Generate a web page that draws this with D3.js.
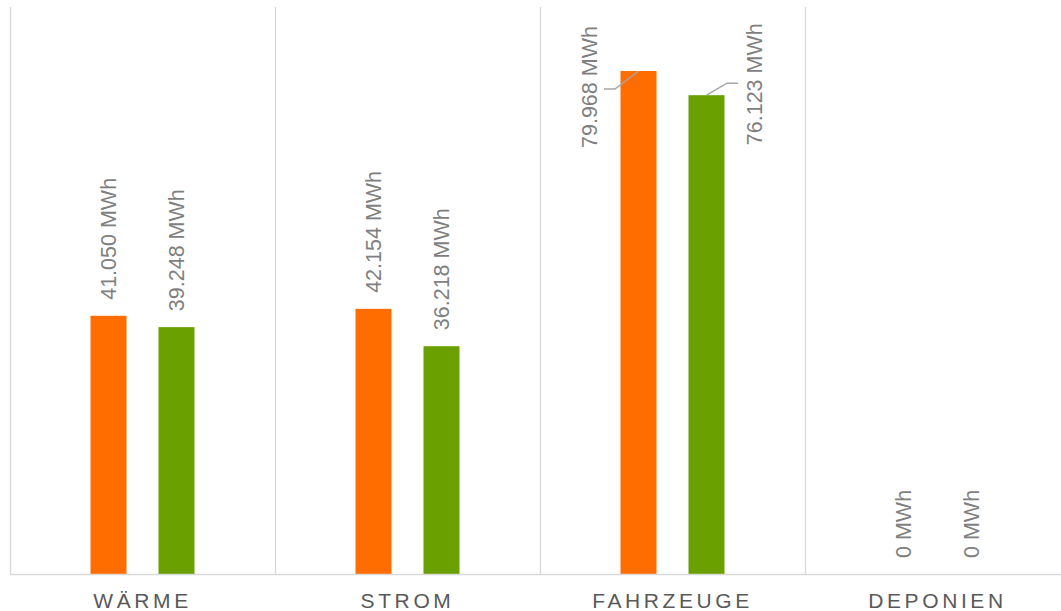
<!DOCTYPE html>
<html>
<head>
<meta charset="utf-8">
<script src="https://cdn.jsdelivr.net/npm/d3@7"></script>
<style>
    body { margin: 0; background: #fff; }
    svg { display: block; font-family: "Liberation Sans", Arial, sans-serif; }
</style>
</head>
<body>
<svg id="chart" width="1061" height="611"></svg>
<script>
// Data
const categories = ["WÄRME", "STROM", "FAHRZEUGE", "DEPONIEN"];
const seriesA = [41.050, 42.154, 79.968, 0];
const seriesB = [39.248, 36.218, 76.123, 0];
const valueLabelsA = ["41.050 MWh", "42.154 MWh", "79.968 MWh", "0 MWh"];
const valueLabelsB = ["39.248 MWh", "36.218 MWh", "76.123 MWh", "0 MWh"];

const COLORS = { a: "#ff6d00", b: "#6aa100", grid: "#d9d9d9", label: "#7f7f7f", cat: "#595959", leader: "#a6a6a6" };

// labels moved off the bar, with a leader line (offsets in px)
const labelAdjust = {
    "a-2": { dx: -49.5, dy: 77, elbow: [-23.5, 18], end: [-34.5, 18] },
    "b-2": { dx: 47.5, dy: 50, elbow: [20.5, -12], end: [31.5, -12] }
};

const svg = d3.select("#chart");
const margin = { top: 7, left: 10, bottom: 37 };
const bandW = 265;
const height = +svg.attr("height");
const baseY = height - margin.bottom;

const x = d3.scaleBand()
    .domain(categories)
    .range([margin.left, margin.left + bandW * categories.length]);

const y = d3.scaleLinear()
    .domain([0, 79.968])
    .range([baseY, 71]);

// vertical separators
svg.append("g")
    .selectAll("line")
    .data(d3.range(categories.length + 1))
    .enter()
    .append("line")
    .attr("x1", i => margin.left + i * bandW + 0.5)
    .attr("x2", i => margin.left + i * bandW + 0.5)
    .attr("y1", margin.top)
    .attr("y2", baseY)
    .attr("stroke", COLORS.grid)
    .attr("stroke-width", 1.3);

const barW = 36;
const offset = 34;

const rows = [];
categories.forEach((c, i) => {
    rows.push({ key: "a-" + i, cat: c, v: seriesA[i], label: valueLabelsA[i], color: COLORS.a, cx: x(c) + bandW / 2 - offset });
    rows.push({ key: "b-" + i, cat: c, v: seriesB[i], label: valueLabelsB[i], color: COLORS.b, cx: x(c) + bandW / 2 + offset });
});

// bars
svg.append("g")
    .selectAll("rect")
    .data(rows.filter(d => d.v > 0))
    .enter()
    .append("rect")
    .attr("x", d => d.cx - barW / 2)
    .attr("y", d => y(d.v))
    .attr("width", barW)
    .attr("height", d => baseY - y(d.v))
    .attr("fill", d => d.color);

// baseline
svg.append("line")
    .attr("x1", margin.left)
    .attr("x2", margin.left + bandW * categories.length)
    .attr("y1", baseY + 0.5)
    .attr("y2", baseY + 0.5)
    .attr("stroke", COLORS.grid)
    .attr("stroke-width", 1.5);

// leader lines
rows.forEach(d => {
    const adj = labelAdjust[d.key];
    if (!adj) return;
    const top = y(d.v);
    svg.append("polyline")
        .attr("points", [
            [d.cx, top],
            [d.cx + adj.elbow[0], top + adj.elbow[1]],
            [d.cx + adj.end[0], top + adj.end[1]]
        ].map(p => p.join(",")).join(" "))
        .attr("fill", "none")
        .attr("stroke", COLORS.leader)
        .attr("stroke-width", 1.5);
});

// value labels (rotated)
svg.append("g")
    .selectAll("text")
    .data(rows)
    .enter()
    .append("text")
    .attr("transform", d => {
        const adj = labelAdjust[d.key];
        const lx = d.cx + (adj ? adj.dx : 0);
        const ly = y(d.v) + (adj ? adj.dy : -16);
        return `translate(${lx},${ly}) rotate(-90)`;
    })
    .attr("dy", "0.36em")
    .attr("text-anchor", "start")
    .attr("font-size", 21.5)
    .attr("fill", COLORS.label)
    .text(d => d.label);

// category labels
svg.append("g")
    .selectAll("text")
    .data(categories)
    .enter()
    .append("text")
    .attr("x", d => x(d) + bandW / 2)
    .attr("y", baseY + 34)
    .attr("text-anchor", "middle")
    .attr("font-size", 21)
    .attr("letter-spacing", "3.6px")
    .attr("fill", COLORS.cat)
    .text(d => d);
</script>
</body>
</html>
